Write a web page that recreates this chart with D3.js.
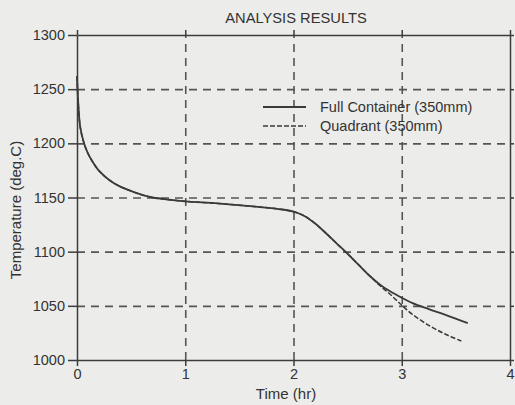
<!DOCTYPE html>
<html>
<head>
<meta charset="UTF-8">
<title>Analysis Results</title>
<script src="https://d3js.org/d3.v7.min.js"></script>
<style>
html, body { margin: 0; padding: 0; background: #ececea; }
svg { display: block; font-family: "Liberation Sans", Arial, Helvetica, sans-serif; }
.axis path, .axis line { stroke: #3c3c3c; stroke-width: 1.5; }
.axis text { fill: #333; font-size: 14.5px; }
.grid line { stroke: #555; stroke-width: 1.6; stroke-dasharray: 8,6; }
.grid path { display: none; }
</style>
</head>
<body>
<script>
// values
var xTicks = [0, 1, 2, 3, 4];
var yTicks = [1000, 1050, 1100, 1150, 1200, 1250, 1300];

var fullTime = [0, 0.01, 0.03, 0.065, 0.1, 0.15, 0.2, 0.3, 0.4, 0.5, 0.6, 0.7, 0.85, 1.0, 1.3, 1.6, 1.85, 2.0, 2.1, 2.2, 2.3, 2.4, 2.5, 2.6, 2.7, 2.8, 2.9, 3.0, 3.1, 3.25, 3.41, 3.61];
var fullTemp = [1262, 1240, 1215, 1200, 1191, 1182, 1175, 1166, 1160, 1156, 1152.5, 1150, 1148, 1146.5, 1144.5, 1142, 1139.5, 1137, 1133, 1126, 1117, 1107.5, 1098, 1088, 1078, 1069.5, 1063, 1057.5, 1052.5, 1047, 1041.5, 1034];

var quadTime = [0, 0.01, 0.03, 0.065, 0.1, 0.15, 0.2, 0.3, 0.4, 0.5, 0.6, 0.7, 0.85, 1.0, 1.3, 1.6, 1.85, 2.0, 2.1, 2.2, 2.3, 2.4, 2.5, 2.6, 2.7, 2.8, 2.9, 3.0, 3.1, 3.25, 3.4, 3.55];
var quadTemp = [1262, 1240, 1215, 1200, 1191, 1182, 1175, 1166, 1160, 1156, 1152.5, 1150, 1148, 1146.5, 1144.5, 1142, 1139.5, 1137, 1133, 1126, 1117, 1107.5, 1098, 1088, 1078, 1068.5, 1060, 1050.5, 1042, 1032, 1024, 1017.5];

var seriesNames = ["Full Container (350mm)", "Quadrant (350mm)"];

var width = 515,
    height = 405;
var plotLeft = 77, plotRight = 510, plotTop = 35, plotBottom = 360;

var svg = d3.select("body").append("svg")
    .attr("width", width)
    .attr("height", height);

var x = d3.scaleLinear().domain([0, 4]).range([plotLeft, plotRight]);
var y = d3.scaleLinear().domain([1000, 1300]).range([plotBottom, plotTop]);

// dashed grid
svg.append("g")
    .attr("class", "grid")
    .attr("transform", "translate(0," + plotBottom + ")")
    .call(d3.axisBottom(x).tickValues([1, 2, 3]).tickSize(-(plotBottom - plotTop)).tickFormat(""));
svg.append("g")
    .attr("class", "grid")
    .attr("transform", "translate(" + plotLeft + ",0)")
    .call(d3.axisLeft(y).tickValues([1050, 1100, 1150, 1200, 1250]).tickSize(-(plotRight - plotLeft)).tickFormat(""));

// frame: solid top and right edges with small outer ticks
svg.append("g")
    .attr("class", "axis")
    .attr("transform", "translate(0," + plotTop + ")")
    .call(d3.axisTop(x).tickValues(xTicks).tickSize(5).tickSizeOuter(0).tickFormat(""));
svg.append("g")
    .attr("class", "axis")
    .attr("transform", "translate(" + plotRight + ",0)")
    .call(d3.axisRight(y).tickValues(yTicks).tickSize(4).tickSizeOuter(0).tickFormat(""));

svg.append("g")
    .attr("class", "axis")
    .attr("transform", "translate(0," + plotBottom + ")")
    .call(d3.axisBottom(x).tickValues(xTicks).tickSize(6).tickSizeOuter(0).tickPadding(3).tickFormat(d3.format("d")));

svg.append("g")
    .attr("class", "axis")
    .attr("transform", "translate(" + plotLeft + ",0)")
    .call(d3.axisLeft(y).tickValues(yTicks).tickSize(9).tickSizeOuter(0).tickPadding(3).tickFormat(d3.format("d")));

// curves
var line = d3.line()
    .x(function (d) { return x(d[0]); })
    .y(function (d) { return y(d[1]); })
    .curve(d3.curveCatmullRom.alpha(0.5));

var full = d3.zip(fullTime, fullTemp);
var quad = d3.zip(quadTime, quadTemp);

svg.append("path")
    .datum(quad)
    .attr("d", line)
    .attr("fill", "none")
    .attr("stroke", "#3a3a3a")
    .attr("stroke-width", 1.5)
    .attr("stroke-dasharray", "5,2");

svg.append("path")
    .datum(full)
    .attr("d", line)
    .attr("fill", "none")
    .attr("stroke", "#3a3a3a")
    .attr("stroke-width", 1.8);

// legend
var legend = svg.append("g").attr("transform", "translate(263,107)");
legend.selectAll("line")
    .data(seriesNames)
    .enter()
    .append("line")
    .attr("x1", 0)
    .attr("x2", 43)
    .attr("y1", function (d, i) { return i * 19; })
    .attr("y2", function (d, i) { return i * 19; })
    .attr("stroke", "#3a3a3a")
    .attr("stroke-width", function (d, i) { return i ? 1.5 : 1.8; })
    .attr("stroke-dasharray", function (d, i) { return i ? "5,2" : null; });
legend.selectAll("text")
    .data(seriesNames)
    .enter()
    .append("text")
    .attr("x", 57)
    .attr("y", function (d, i) { return i * 19 + 5; })
    .attr("font-size", "14.5px")
    .attr("fill", "#333")
    .text(function (d) { return d; });

// titles
svg.append("text")
    .attr("x", 296)
    .attr("y", 23)
    .attr("text-anchor", "middle")
    .attr("font-size", "14.7px")
    .attr("fill", "#333")
    .text("ANALYSIS RESULTS");

svg.append("text")
    .attr("x", 286)
    .attr("y", 399)
    .attr("text-anchor", "middle")
    .attr("font-size", "15px")
    .attr("fill", "#333")
    .text("Time (hr)");

svg.append("text")
    .attr("transform", "translate(21,210) rotate(-90)")
    .attr("text-anchor", "middle")
    .attr("font-size", "15px")
    .attr("fill", "#333")
    .text("Temperature (deg.C)");
</script>
</body>
</html>
